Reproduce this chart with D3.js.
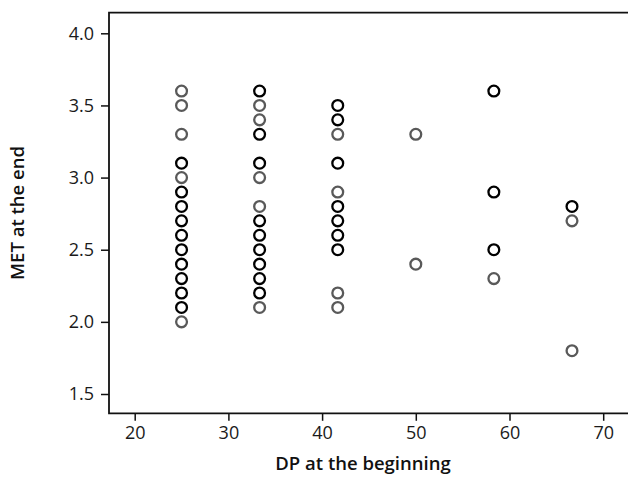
<!DOCTYPE html>
<html>
<head>
<meta charset="utf-8">
<script src="https://cdn.jsdelivr.net/npm/d3@7"></script>
<style>
  html, body { margin: 0; padding: 0; background: #fff; }
  svg { display: block; }
  .tick text { font-family: "Open Sans", "Noto Sans", sans-serif; font-size: 18px; fill: #1a1a1a; }
  .title { font-family: "Open Sans", "Noto Sans", sans-serif; font-size: 18.5px; font-weight: 600; fill: #111; }
</style>
</head>
<body>
<svg id="chart" width="628" height="477"></svg>
<script>
// DP at the beginning (x) for each column of observations
const dpLevels = [25, 33.33, 41.67, 50, 58.33, 66.67];

// MET at the end: single observations (grey) per DP level
const singleMET = [
  [3.6, 3.5, 3.3, 3.0, 2.0],
  [3.5, 3.4, 3.0, 2.8, 2.1],
  [3.3, 2.9, 2.2, 2.1],
  [3.3, 2.4],
  [2.3],
  [2.7, 1.8]
];

// MET at the end: repeated observations (darker marks) per DP level
const repeatedMET = [
  [3.1, 2.9, 2.8, 2.7, 2.6, 2.5, 2.4, 2.3, 2.2, 2.1],
  [3.6, 3.3, 3.1, 2.7, 2.6, 2.5, 2.4, 2.3, 2.2],
  [3.5, 3.4, 3.1, 2.8, 2.7, 2.6, 2.5],
  [],
  [3.6, 2.9, 2.5],
  [2.8]
];

const xTicks = [20, 30, 40, 50, 60, 70];
const yTicks = [1.5, 2.0, 2.5, 3.0, 3.5, 4.0];

const svg = d3.select("#chart");

const frame = { left: 109, right: 628, top: 12.7, bottom: 413.3 };

const x = d3.scaleLinear().domain([20, 70]).range([134.7, 603.2]);
const y = d3.scaleLinear().domain([1.5, 4.0]).range([394, 33.3]);

// Axes
const xAxis = svg.append("g")
  .attr("transform", `translate(0,${frame.bottom})`)
  .call(d3.axisBottom(x).tickValues(xTicks).tickFormat(d3.format("d")).tickSize(7.5).tickPadding(5));
xAxis.select(".domain").remove();
xAxis.selectAll(".tick line").attr("stroke", "#111").attr("stroke-width", 1.5);

const yAxis = svg.append("g")
  .attr("transform", `translate(${frame.left},0)`)
  .call(d3.axisLeft(y).tickValues(yTicks).tickFormat(d3.format(".1f")).tickSize(8).tickPadding(7));
yAxis.select(".domain").remove();
yAxis.selectAll(".tick line").attr("stroke", "#111").attr("stroke-width", 1.5);

// Plot frame (open on the right)
svg.append("path")
  .attr("d", `M${frame.right},${frame.top}H${frame.left}V${frame.bottom}H${frame.right}`)
  .attr("fill", "none")
  .attr("stroke", "#111")
  .attr("stroke-width", 1.8);

// Points
const flatten = (groups) => groups.flatMap((vals, i) => vals.map(v => ({ dp: dpLevels[i], met: v })));

const marks = svg.append("g");
marks.selectAll("circle.single")
  .data(flatten(singleMET))
  .join("circle")
  .attr("class", "single")
  .attr("cx", d => x(d.dp))
  .attr("cy", d => y(d.met))
  .attr("r", 5.4)
  .attr("fill", "none")
  .attr("stroke", "#595959")
  .attr("stroke-width", 2.3);

marks.selectAll("circle.repeated")
  .data(flatten(repeatedMET))
  .join("circle")
  .attr("class", "repeated")
  .attr("cx", d => x(d.dp))
  .attr("cy", d => y(d.met))
  .attr("r", 5.4)
  .attr("fill", "none")
  .attr("stroke", "#000")
  .attr("stroke-width", 2.3);

// Axis titles
svg.append("text")
  .attr("class", "title")
  .attr("x", 363)
  .attr("y", 470)
  .attr("text-anchor", "middle")
  .text("DP at the beginning");

svg.append("text")
  .attr("class", "title")
  .attr("transform", "translate(24,213) rotate(-90)")
  .attr("text-anchor", "middle")
  .text("MET at the end");
</script>
</body>
</html>
